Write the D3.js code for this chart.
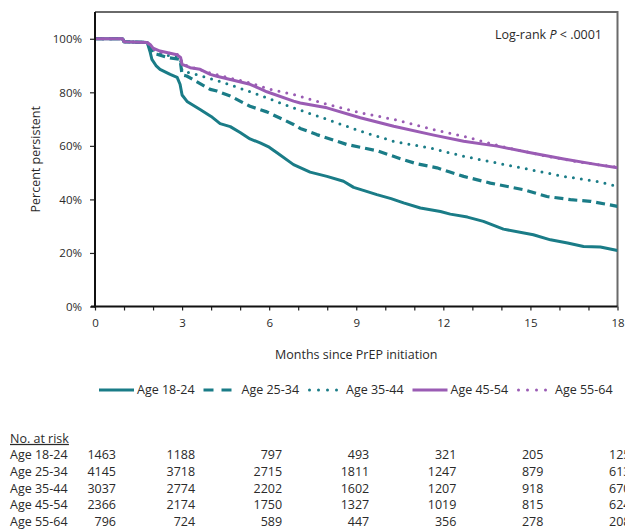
<!DOCTYPE html>
<html>
<head>
<meta charset="utf-8">
<script src="https://cdn.jsdelivr.net/npm/d3@7"></script>
<style>
  html, body { margin: 0; padding: 0; background: #fff; }
  svg { display: block; }
  text { font-family: "Open Sans", "Noto Sans", sans-serif; fill: #2a2a2a; }
</style>
</head>
<body>
<svg id="chart" width="625" height="529"></svg>
<script>
// ---------------- DATA ----------------
const seriesNames = ["Age 18-24", "Age 25-34", "Age 35-44", "Age 45-54", "Age 55-64"];

// [month, percent persistent]
const age1824 = [[0,100],[0.95,100],[1.0,98.9],[1.8,98.6],[1.9,95],[1.96,92.3],[2.1,90],[2.24,88.6],[2.59,86.7],[2.83,85.6],[2.93,83],[3.0,79],[3.17,76.6],[3.62,73.6],[4.0,71],[4.31,68.3],[4.66,67.2],[5.0,65],[5.34,62.6],[5.69,61.1],[6.0,59.5],[6.27,57.4],[6.84,53],[7.41,50.2],[7.99,48.6],[8.56,46.8],[8.91,44.5],[9.3,43.2],[9.71,41.8],[10.2,40.3],[10.63,38.7],[11.21,36.8],[11.9,35.5],[12.24,34.5],[12.83,33.4],[13.38,31.8],[14.07,28.9],[15.1,26.8],[15.69,24.9],[16.28,23.7],[16.83,22.4],[17.41,22.2],[18,20.9]];
const age2534 = [[0,100],[0.95,100],[1.0,98.9],[1.8,98.6],[1.9,96.5],[2.0,94.5],[2.13,94.2],[2.5,93],[2.93,92.3],[3.0,86.5],[3.16,86.1],[3.5,84],[3.97,81.1],[4.2,80.5],[4.66,78.6],[5.34,74.8],[5.92,72.7],[6.84,68],[7.07,66.5],[7.64,64.2],[8.68,60.5],[9.71,58.2],[10.52,55.2],[11.09,53.3],[11.78,51.8],[12.2,50.3],[12.7,48.6],[13.62,46.1],[14.77,43.6],[15.57,41.1],[16.38,39.9],[17.07,39.3],[18,37.4]];
const age3544 = [[0,100],[0.95,100],[1.0,98.9],[1.8,98.6],[1.9,97],[2.13,94.8],[2.5,93.8],[2.93,93],[3.0,88],[3.2,87.5],[3.85,85.5],[4.43,83.6],[5.11,81.1],[5.8,78.4],[6.84,74.2],[7.99,69.9],[9.14,65.5],[10.29,61.7],[11.67,58.9],[12.7,56.1],[13.85,53.6],[15,51.1],[16.15,48.6],[17.3,46.7],[18,44.9]];
const age4554 = [[0,100],[0.95,100],[1.0,98.9],[1.8,98.6],[1.9,97.9],[2.0,96.5],[2.24,95.4],[2.82,94],[2.95,93],[3.0,90.4],[3.28,89.2],[3.62,88.6],[3.97,86.7],[4.2,86],[4.66,84.8],[5.34,83],[5.7,81.3],[5.92,80.2],[6.84,76.7],[7.07,76],[7.99,74.2],[9.14,70.5],[10.29,67.3],[11.67,64],[12.7,61.7],[13.85,59.9],[15,57.4],[16.15,55.1],[17.3,53],[18,51.8]];
const age5564 = [[0,100],[0.95,100],[1.0,98.9],[1.8,98.6],[1.9,97.5],[2.0,96.2],[2.24,95],[2.82,94.3],[2.95,93.2],[3.0,90.6],[3.3,89.5],[3.97,87.2],[4.66,85.3],[5.34,83.5],[6.03,81.1],[6.84,79.2],[7.99,75.5],[9.14,72.4],[10.29,69.9],[11.67,66.1],[12.7,63.6],[13.74,60.5],[14.5,58.6],[15.5,56.3],[16.5,54.3],[17.3,53],[18,52]];

const xTickLabels = [0, 3, 6, 9, 12, 15, 18];
const yTickLabels = [0, 20, 40, 60, 80, 100];

// Number at risk at each x tick
const riskTimes = [0, 3, 6, 9, 12, 15, 18];
const risk1824 = [1463, 1188, 797, 493, 321, 205, 125];
const risk2534 = [4145, 3718, 2715, 1811, 1247, 879, 613];
const risk3544 = [3037, 2774, 2202, 1602, 1207, 918, 670];
const risk4554 = [2366, 2174, 1750, 1327, 1019, 815, 624];
const risk5564 = [796, 724, 589, 447, 356, 278, 208];

// ---------------- STYLE ----------------
const TEAL = "#1a7c87";
const PURPLE = "#9a5cb4";
const styles = [
  { color: TEAL,   width: 3, dash: null,     cap: "butt" },
  { color: TEAL,   width: 3.2, dash: "9 5",  cap: "butt" },
  { color: TEAL,   width: 3, dash: "0 8",    cap: "round" },
  { color: PURPLE, width: 3, dash: null,     cap: "butt" },
  { color: PURPLE, width: 3, dash: "0 8",    cap: "round" }
];
const seriesData = [age1824, age2534, age3544, age4554, age5564];
const riskData = [risk1824, risk2534, risk3544, risk4554, risk5564];

// ---------------- LAYOUT ----------------
const svg = d3.select("#chart");
const pL = 95, pR = 617.5, pT = 12, pB = 306.5;

const x = d3.scaleLinear().domain([0, 18]).range([pL, pR]);
const y = d3.scaleLinear().domain([0, 110]).range([pB, pT]);

// clip
svg.append("defs").append("clipPath").attr("id", "plotclip")
  .append("rect").attr("x", pL).attr("y", pT - 2).attr("width", pR - pL).attr("height", pB - pT + 2);

// frame top/right (gray)
svg.append("path")
  .attr("d", `M${pL},${pT}H${pR}V${pB}`)
  .attr("fill", "none").attr("stroke", "#6a6a6a").attr("stroke-width", 2);

// lines
const line = d3.line().x(d => x(d[0])).y(d => y(d[1]));
const g = svg.append("g").attr("clip-path", "url(#plotclip)");
seriesData.forEach((data, i) => {
  const s = styles[i];
  g.append("path")
    .datum(data)
    .attr("d", line)
    .attr("fill", "none")
    .attr("stroke", s.color)
    .attr("stroke-width", s.width)
    .attr("stroke-linecap", s.cap)
    .attr("stroke-linejoin", "round")
    .attr("stroke-dasharray", s.dash);
});

// Y axis
const yAxis = d3.axisLeft(y).tickValues(yTickLabels).tickSize(5).tickSizeOuter(0)
  .tickFormat(d => d + "%");
const ya = svg.append("g").attr("transform", `translate(${pL},0)`).call(yAxis);
ya.select(".domain").remove();
ya.selectAll(".tick line").attr("stroke", "#222").attr("stroke-width", 1.2);
ya.selectAll(".tick text").attr("x", -13).attr("dy", "0.35em")
  .style("font-size", "11.5px").style("font-family", "'Open Sans', sans-serif").attr("fill", "#2a2a2a");
svg.append("line").attr("x1", pL).attr("x2", pL).attr("y1", pT).attr("y2", pB + 1)
  .attr("stroke", "#111").attr("stroke-width", 2);

// X axis
const xAxis = d3.axisBottom(x).tickValues(d3.range(0, 19, 1)).tickSize(4).tickSizeOuter(0)
  .tickFormat(d => xTickLabels.includes(d) ? d : "");
const xa = svg.append("g").attr("transform", `translate(0,${pB})`).call(xAxis);
xa.select(".domain").remove();
xa.selectAll(".tick line").attr("stroke", "#222").attr("stroke-width", 1.2);
xa.selectAll(".tick text").attr("y", 12).attr("dy", "0.71em")
  .style("font-size", "11.5px").style("font-family", "'Open Sans', sans-serif").attr("fill", "#2a2a2a");
svg.append("line").attr("x1", pL - 4).attr("x2", pR).attr("y1", pB).attr("y2", pB)
  .attr("stroke", "#111").attr("stroke-width", 2);

// axis titles
svg.append("text")
  .attr("transform", `translate(36,${(pT + pB) / 2}) rotate(-90)`)
  .attr("text-anchor", "middle").attr("dy", "0.35em")
  .style("font-size", "12.5px").text("Percent persistent");
svg.append("text")
  .attr("x", (pL + pR) / 2).attr("y", 355).attr("dy", "0.35em")
  .attr("text-anchor", "middle").style("font-size", "12.5px")
  .text("Months since PrEP initiation");

// log-rank annotation
const lr = svg.append("text").attr("x", 602).attr("y", 35).attr("dy", "0.35em")
  .attr("text-anchor", "end").style("font-size", "12.5px");
lr.append("tspan").text("Log-rank ");
lr.append("tspan").style("font-style", "italic").text("P");
lr.append("tspan").text(" < .0001");

// legend
const legendY = 390;
const legendStart = 99, legendStep = 104.5;
seriesNames.forEach((name, i) => {
  const s = styles[i];
  const lx = legendStart + i * legendStep;
  const len = s.dash === null ? 35 : (s.cap === "round" ? 29 : 28);
  svg.append("line")
    .attr("x1", s.cap === "round" ? lx + 1.5 : lx).attr("x2", lx + len)
    .attr("y1", legendY).attr("y2", legendY)
    .attr("stroke", s.color).attr("stroke-width", s.width)
    .attr("stroke-linecap", s.cap)
    .attr("stroke-dasharray", s.dash === null ? null : (s.cap === "round" ? "0 9" : "10 8"));
  svg.append("text").attr("x", lx + 38).attr("y", legendY).attr("dy", "0.35em")
    .style("font-size", "12.5px").text(name);
});

// number at risk table
const tableTop = 438.5, rowStep = 16.6;
svg.append("text").attr("x", 10).attr("y", tableTop).attr("dy", "0.35em")
  .style("font-size", "12.5px").style("text-decoration", "underline").text("No. at risk");
seriesNames.forEach((name, i) => {
  const ry = tableTop + (i + 1) * rowStep;
  svg.append("text").attr("x", 10).attr("y", ry).attr("dy", "0.35em")
    .style("font-size", "12.5px").text(name);
  riskData[i].forEach((v, j) => {
    const t = riskTimes[j];
    svg.append("text")
      .attr("x", x(t) + (t === 0 ? 21 : 13))
      .attr("y", ry).attr("dy", "0.35em")
      .attr("text-anchor", "end").style("font-size", "12.5px")
      .text(v);
  });
});
</script>
</body>
</html>
